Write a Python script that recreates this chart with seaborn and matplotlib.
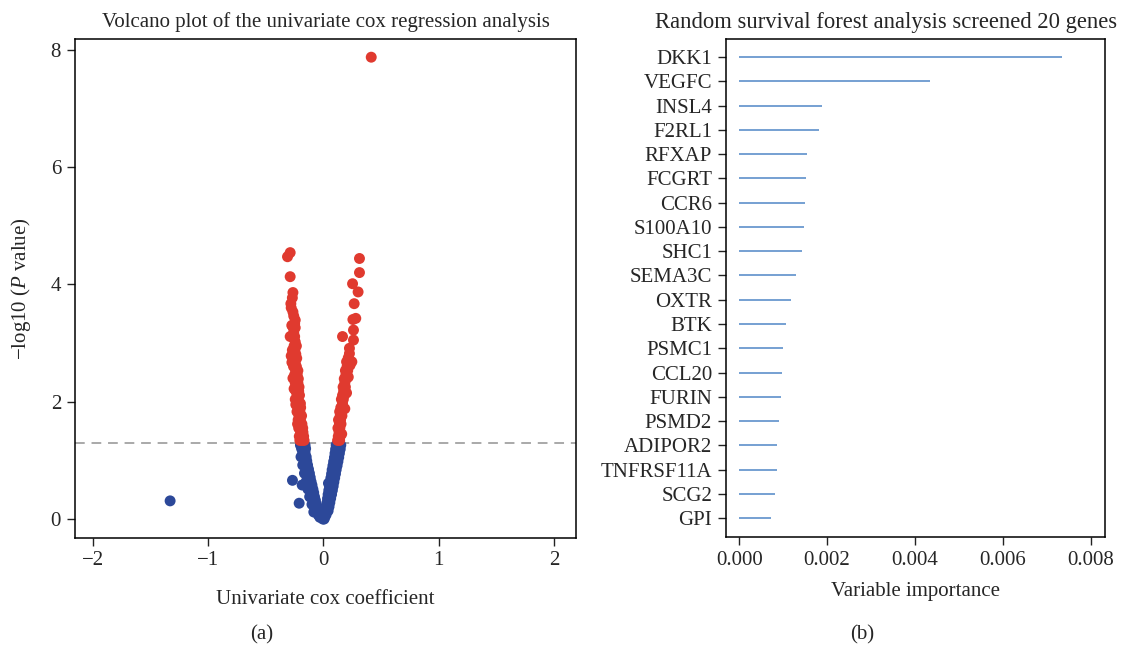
import numpy as np
import pandas as pd
import matplotlib
matplotlib.use("Agg")
import matplotlib.pyplot as plt
import seaborn as sns

# ---------------- data ----------------
# Volcano plot: univariate Cox coefficient vs -log10(P)
sig_coef = [
    -0.205, -0.185, -0.168, -0.21, -0.19, -0.172, -0.198, -0.178,
    -0.215, -0.195, -0.18, -0.205, -0.187, -0.22, -0.2, -0.212, -0.19,
    -0.23, -0.205, -0.215, -0.198, -0.225, -0.2, -0.245, -0.22,
    -0.228, -0.208, -0.24, -0.215, -0.232, -0.212, -0.245, -0.222,
    -0.235, -0.218, -0.25, -0.228, -0.24, -0.222, -0.26, -0.235,
    -0.274, -0.245, -0.25, -0.232, -0.262, -0.24, -0.27, -0.248,
    -0.255, -0.235, -0.245, -0.289, -0.25, -0.258, -0.262, -0.245,
    -0.25, -0.245, -0.258, -0.265, -0.28, -0.283, -0.27, -0.265,
    -0.289, -0.312, -0.289,
    -0.225, -0.24, -0.255, -0.265, -0.28, -0.275,
    0.122, 0.14, 0.128, 0.145, 0.135, 0.125, 0.142, 0.138, 0.152,
    0.13, 0.148, 0.145, 0.16, 0.14, 0.155, 0.15, 0.168, 0.165,
    0.155, 0.172, 0.165, 0.18, 0.175, 0.17, 0.19, 0.185, 0.18, 0.198,
    0.195, 0.19, 0.21, 0.205, 0.2, 0.22, 0.246, 0.215, 0.225, 0.225,
    0.26, 0.165, 0.26, 0.255, 0.28, 0.266, 0.30, 0.252, 0.312, 0.312,
    0.414,
    0.158, 0.185, 0.2, 0.215, 0.23,
]
sig_logp = [
    1.34, 1.34, 1.34, 1.41, 1.41, 1.41, 1.48, 1.48,
    1.55, 1.55, 1.55, 1.62, 1.62, 1.69, 1.69, 1.76, 1.76,
    1.83, 1.83, 1.90, 1.90, 1.97, 1.97, 2.04, 2.04,
    2.11, 2.11, 2.18, 2.18, 2.25, 2.25, 2.32, 2.32,
    2.39, 2.39, 2.46, 2.46, 2.53, 2.53, 2.60, 2.60,
    2.67, 2.67, 2.74, 2.74, 2.81, 2.81, 2.88, 2.88,
    2.95, 2.95, 3.02, 3.11, 3.11, 3.18, 3.26, 3.26,
    3.33, 3.39, 3.46, 3.53, 3.60, 3.67, 3.77, 3.86,
    4.13, 4.47, 4.54,
    1.62, 1.95, 2.22, 2.40, 2.78, 3.30,
    1.34, 1.34, 1.41, 1.41, 1.48, 1.55, 1.55, 1.62, 1.62,
    1.69, 1.69, 1.76, 1.76, 1.83, 1.83, 1.90, 1.90, 1.97,
    2.04, 2.04, 2.11, 2.11, 2.18, 2.25, 2.25, 2.32, 2.39, 2.39,
    2.46, 2.53, 2.53, 2.60, 2.68, 2.68, 2.68, 2.75, 2.82, 2.91,
    3.05, 3.11, 3.22, 3.40, 3.42, 3.67, 3.87, 4.01, 4.20, 4.44,
    7.87,
    1.45, 1.88, 2.15, 2.42, 2.62,
]
ns_coef = [
    -0.2, -0.18, -0.16, -0.19, -0.17, -0.155, -0.18, -0.16,
    -0.195, -0.17, -0.15, -0.165, -0.145, -0.18, -0.158, -0.138,
    -0.15, -0.13, -0.165, -0.143, -0.122, -0.135, -0.115, -0.269,
    -0.15, -0.128, -0.108, -0.185, -0.12, -0.1, -0.135, -0.112, -0.092,
    -0.105, -0.085, -0.12, -0.098, -0.078, -0.09, -0.07, -0.211,
    -0.1, -0.08, -0.062, -0.07, -0.052, -0.084, -0.06, -0.04,
    -0.045, -0.028, -0.032, -0.015, -0.005, 0.005,
    0.11, 0.13, 0.15, 0.105, 0.125, 0.145, 0.1, 0.12, 0.138,
    0.095, 0.115, 0.132, 0.088, 0.108, 0.125, 0.082, 0.1, 0.118,
    0.075, 0.093, 0.11, 0.07, 0.088, 0.104, 0.064, 0.08, 0.097,
    0.058, 0.075, 0.09, 0.043, 0.052, 0.068, 0.084, 0.046, 0.062, 0.077,
    0.04, 0.055, 0.07, 0.035, 0.048, 0.062, 0.03, 0.042, 0.055,
    0.022, 0.035, 0.048, 0.018, 0.03, 0.04, 0.012, 0.022, 0.008,
    -1.33,
]
ns_logp = [
    1.26, 1.26, 1.26, 1.20, 1.20, 1.20, 1.13, 1.13,
    1.06, 1.06, 1.06, 0.99, 0.99, 0.92, 0.92, 0.92,
    0.85, 0.85, 0.78, 0.78, 0.78, 0.71, 0.71, 0.66,
    0.64, 0.64, 0.64, 0.58, 0.58, 0.58, 0.51, 0.51, 0.51,
    0.45, 0.45, 0.38, 0.38, 0.38, 0.32, 0.32, 0.27,
    0.25, 0.25, 0.25, 0.19, 0.19, 0.12, 0.12, 0.12,
    0.07, 0.07, 0.03, 0.03, 0.0, 0.0,
    1.26, 1.26, 1.26, 1.19, 1.19, 1.19, 1.12, 1.12, 1.12,
    1.05, 1.05, 1.05, 0.98, 0.98, 0.98, 0.91, 0.91, 0.91,
    0.84, 0.84, 0.84, 0.77, 0.77, 0.77, 0.70, 0.70, 0.70,
    0.63, 0.63, 0.63, 0.61, 0.56, 0.56, 0.56, 0.49, 0.49, 0.49,
    0.42, 0.42, 0.42, 0.35, 0.35, 0.35, 0.28, 0.28, 0.28,
    0.21, 0.21, 0.21, 0.14, 0.14, 0.14, 0.07, 0.07, 0.02,
    0.31,
]
p_cutoff = 0.05

# Random survival forest variable importance
genes = ["DKK1", "VEGFC", "INSL4", "F2RL1", "RFXAP", "FCGRT", "CCR6",
         "S100A10", "SHC1", "SEMA3C", "OXTR", "BTK", "PSMC1", "CCL20",
         "FURIN", "PSMD2", "ADIPOR2", "TNFRSF11A", "SCG2", "GPI"]
importance = [0.00734, 0.00434, 0.00188, 0.00181, 0.00155, 0.00151,
              0.00149, 0.00148, 0.00142, 0.00129, 0.00118, 0.00107,
              0.00099, 0.00098, 0.00096, 0.00091, 0.00086, 0.00085,
              0.00082, 0.00073]

volcano_x_ticks = [-2, -1, 0, 1, 2]
volcano_y_ticks = [0, 2, 4, 6, 8]
vimp_x_ticks = [0.000, 0.002, 0.004, 0.006, 0.008]

# ---------------- style ----------------
sns.set_theme(style="white")
plt.rcParams["font.family"] = ["Liberation Serif", "DejaVu Serif"]
plt.rcParams["mathtext.fontset"] = "custom"
plt.rcParams["mathtext.rm"] = "Liberation Serif"
plt.rcParams["mathtext.it"] = "Liberation Serif:italic"
plt.rcParams["axes.unicode_minus"] = True

RED = "#E03A2F"
BLUE = "#2C4899"
LINE = "#4F86C6"
FS = 15

fig = plt.figure(figsize=(11.24, 6.5), dpi=100)
ax1 = fig.add_axes([0.0667, 0.173, 0.4458, 0.767])
ax2 = fig.add_axes([0.6459, 0.174, 0.3372, 0.766])

# ---------------- (a) volcano ----------------
df = pd.DataFrame({
    "coef": ns_coef + sig_coef,
    "logp": ns_logp + sig_logp,
    "group": ["ns"] * len(ns_coef) + ["sig"] * len(sig_coef),
})
sns.scatterplot(data=df, x="coef", y="logp", hue="group",
                palette={"ns": BLUE, "sig": RED}, s=62, linewidth=0,
                legend=False, ax=ax1, zorder=3)
ax1.axhline(-np.log10(p_cutoff), color="#A9A9A9", lw=1.4,
            ls=(0, (5, 3.5)), zorder=2)
ax1.set_xlim(-2.155, 2.19)
ax1.set_ylim(-0.315, 8.18)
ax1.set_xticks(volcano_x_ticks)
ax1.set_yticks(volcano_y_ticks)
ax1.set_xticklabels(["\u22122", "\u22121", "0", "1", "2"])
ax1.set_xlabel("Univariate cox coefficient", fontsize=FS, labelpad=14)
ax1.set_ylabel(r"$-$log10 ($P$ value)", fontsize=FS, labelpad=13)
ax1.set_title("Volcano plot of the univariate cox regression analysis",
              fontsize=FS, pad=9)

# ---------------- (b) variable importance ----------------
ypos = np.arange(len(genes), 0, -1)
ax2.hlines(ypos, 0, importance, color=LINE, lw=1.1)
ax2.set_yticks(ypos)
ax2.set_yticklabels(genes)
ax2.set_ylim(1 - 0.77, len(genes) + 0.74)
ax2.set_xlim(-0.0003, 0.00832)
ax2.set_xticks(vimp_x_ticks)
ax2.set_xticklabels([f"{v:.3f}" for v in vimp_x_ticks])
ax2.set_xlabel("Variable importance", fontsize=FS, labelpad=9)
fig.text(0.788, 0.966, "Random survival forest analysis screened 20 genes",
         ha="center", va="center", fontsize=16.3)

for ax in (ax1, ax2):
    for sp in ax.spines.values():
        sp.set_visible(True)
        sp.set_color("black")
        sp.set_linewidth(1.1)
    ax.tick_params(axis="both", direction="out", length=6, width=1.0,
                   color="#222222", labelsize=FS, pad=4,
                   bottom=True, left=True)
    ax.grid(False)

fig.text(0.233, 0.023, "(a)", ha="center", va="center", fontsize=FS)
fig.text(0.767, 0.023, "(b)", ha="center", va="center", fontsize=FS)

fig.savefig("out.png", dpi=100, facecolor="white")
